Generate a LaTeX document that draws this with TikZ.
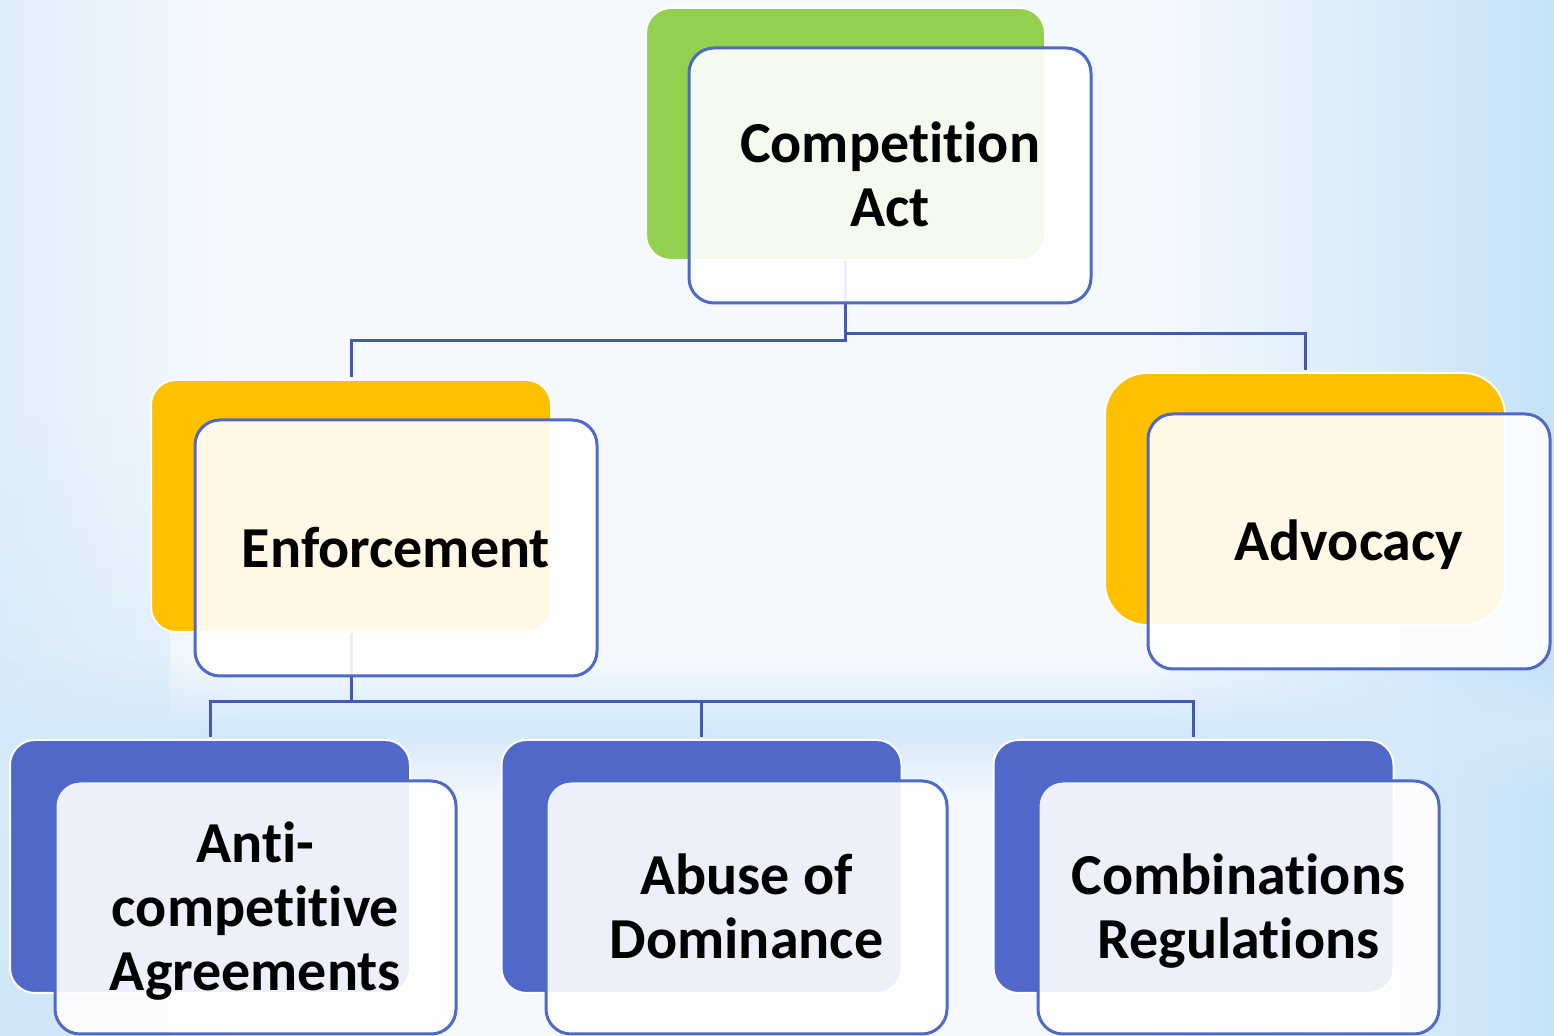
\documentclass[tikz,border=0pt]{standalone}
\usepackage{fontspec}
\setmainfont[RawFeature={-liga;-clig;-dlig}]{Carlito}
\usetikzlibrary{fadings}
\definecolor{bgc}{HTML}{F5F9FE}
\definecolor{bgblue}{HTML}{C6E2F7}
\definecolor{cgreen}{HTML}{92D050}
\definecolor{corange}{HTML}{FFC000}
\definecolor{cblue}{HTML}{5068C8}
\definecolor{cline}{HTML}{4F69C6}
\definecolor{cconn}{HTML}{4459B6}
\tikzfading[name=bandfade, top color=transparent!100, bottom color=transparent!100, middle color=transparent!0]
\tikzfading[name=upfade, top color=transparent!100, bottom color=transparent!0]
\tikzset{
  backbox/.style={draw=white, line width=1pt, rounded corners=12.5pt, minimum width=200pt, minimum height=126pt, inner sep=0pt},
  frontbox/.style={draw=cline, line width=1.5pt, fill=white, fill opacity=0.9, rounded corners=12.5pt, minimum width=201pt, minimum height=127.5pt, inner sep=0pt},
  lbl/.style={inner sep=0pt, align=center, font=\fontsize{29}{32}\selectfont\bfseries},
  conn/.style={draw=cconn, line width=1.5pt}
}
\begin{document}
\begin{tikzpicture}[x=0.5pt,y=-0.5pt]
\useasboundingbox (0,0) rectangle (1554,1036);
% background
\fill[bgc] (0,0) rectangle (1554,1036);
\shade[left color=bgc, right color=bgblue] (1150,0) rectangle (1554,1036);
\shade[left color=bgblue!45!bgc, right color=bgc] (0,0) rectangle (240,1036);
\fill[bgblue!80!bgc, path fading=upfade] (0,420) rectangle (170,1036);
\fill[bgblue!70!bgc, path fading=bandfade] (0,660) rectangle (1554,800);
% back boxes
\node[backbox, fill=cgreen, minimum width=199.5pt] (cab) at (845.5,134) {};
\node[backbox, fill=corange] (enb) at (351,506) {};
\node[backbox, fill=corange, rounded corners=21pt] (adb) at (1305,499) {};
\node[backbox, fill=cblue, minimum height=126.5pt] (b1) at (210,866.5) {};
\node[backbox, fill=cblue, minimum height=126.5pt] (b2) at (701.5,866.5) {};
\node[backbox, fill=cblue, minimum height=126.5pt] (b3) at (1193.5,866.5) {};
% connectors
\draw[conn] (cab.south) -- ([yshift=-40pt]cab.south) -| ([yshift=1pt]enb.north);
\draw[conn] ([yshift=-36.5pt]cab.south) -| ([yshift=1pt]adb.north);
\draw[conn] (enb.south) -- ([yshift=-34.5pt]enb.south) -| ([yshift=1pt]b1.north);
\draw[conn] ([yshift=-34.5pt]enb.south) -| ([yshift=1pt]b2.north);
\draw[conn] ([yshift=-34.5pt]enb.south) -| ([yshift=1pt]b3.north);
% front boxes
\node[frontbox] (caf) at (890,175.5) {};
\node[frontbox, minimum height=128pt] (enf) at (396,548) {};
\node[frontbox] (adf) at (1349,541.5) {};
\node[frontbox, minimum height=126.5pt, minimum width=200.5pt] (f1) at (255.5,907.5) {};
\node[frontbox, minimum height=126.5pt, minimum width=200.5pt] (f2) at (746.5,907.5) {};
\node[frontbox, minimum height=126.5pt, minimum width=200.5pt] (f3) at (1238.5,907.5) {};
% labels
\node[lbl] (cat) at ([yshift=-3.3pt]caf.center) {\strut Competition\\\strut Act};
\node[lbl] (ent) at ([yshift=-3.3pt]enf.center) {\strut Enforcement};
\node[lbl] (adt) at ([yshift=-3.3pt]adf.center) {\strut Advocacy};
\node[lbl] (t1) at ([yshift=-3.3pt]f1.center) {\strut Anti-\\\strut competitive\\\strut Agreements};
\node[lbl] (t2) at ([yshift=-3.3pt]f2.center) {\strut Abuse of\\\strut Dominance};
\node[lbl] (t3) at ([yshift=-3.3pt]f3.center) {\strut Combinations\\\strut Regulations};
\end{tikzpicture}
\end{document}
